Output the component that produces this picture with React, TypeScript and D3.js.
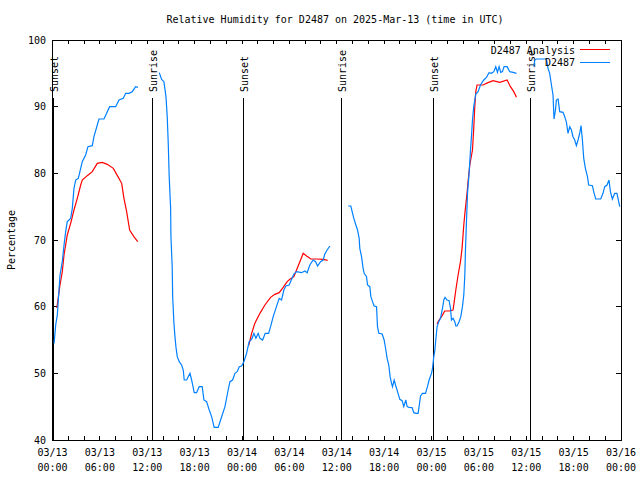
import React from "react";
import * as d3 from "d3";

// Hours since 03/13 00:00 UTC, value in %
type Pt = [number, number] | null;

const analysisSeries: Pt[] = [
  [0.55, 59.8], [0.95, 63.25], [1.24, 65.25], [1.46, 67.75], [1.87, 70.75],
  [2.3, 72.5], [2.72, 74.5], [3.14, 76.25], [3.57, 78.25], [3.77, 79], [4.4, 79.65],
  [5.04, 80.25], [5.67, 81.5], [6.3, 81.65], [6.94, 81.35], [7.7, 80.75], [8.29, 79.5],
  [8.76, 78.5], [9.05, 76.25], [9.39, 74.25], [9.77, 71.5], [10.3, 70.5], [10.8, 69.75],
  null,
  [24.85, 54.2], [25.22, 56], [25.63, 57.5], [26.27, 59], [26.9, 60.25],
  [27.62, 61.4], [28.16, 61.85], [28.71, 62.1], [29.22, 62.9], [29.72, 63.75], [30.06, 64.1],
  [30.57, 64.5], [30.91, 65.5], [31.33, 66.75], [31.75, 68], [32.18, 67.6], [32.72, 67.15],
  [33.44, 67.15], [34.28, 67.1], [34.84, 66.95],
  null,
  [48.71, 57.4], [48.92, 57.9], [49.27, 58.5], [49.68, 59.35], [50.23, 59.35],
  [50.73, 59.5], [50.86, 60.6], [51.08, 62.5], [51.37, 64.75], [51.67, 66.75], [51.87, 68.75],
  [52.09, 72.25], [52.25, 74.25], [52.43, 76.25], [52.56, 77.75], [52.63, 78.75], [52.85, 81.25],
  [53.19, 83.5], [53.35, 86.75], [53.48, 90], [53.61, 92.25], [53.77, 93.25], [54.53, 93.25],
  [55.16, 93.6], [55.8, 93.9], [56.65, 93.65], [57.57, 94], [58.0, 93], [58.42, 92.25],
  [58.76, 91.4],
];

const observedSeries: Pt[] = [
  [0.2, 54.5], [0.41, 57.3], [0.61, 58.75], [0.78, 61.75], [0.95, 64.75], [1.24, 66.75],
  [1.46, 69.25], [1.67, 71.25], [1.87, 72.75], [2.09, 73], [2.3, 73.25], [2.51, 74.75],
  [2.72, 77.75], [2.94, 79], [3.27, 79.25], [3.57, 80.75], [3.77, 81.75], [4.2, 82.75],
  [4.49, 84], [5.04, 84.15], [5.25, 85.5], [5.67, 87.25], [5.89, 88.15], [6.52, 88.15],
  [6.94, 89.25], [7.24, 90], [8.0, 90], [8.42, 91], [8.96, 91.25], [9.27, 92], [9.68, 92],
  [10.1, 92.25], [10.53, 93], [10.82, 92.9],
  null,
  [13.52, 95.1], [13.82, 94.1], [14.11, 93.75], [14.37, 91.5], [14.53, 88.5], [14.66, 84.5],
  [14.78, 79.5], [14.96, 74.75], [15.0, 70.5], [15.16, 66], [15.22, 61.5], [15.38, 57.5],
  [15.51, 55.5], [15.63, 54], [15.8, 52.5], [16.05, 51.75], [16.35, 51.25], [16.56, 50.5],
  [16.68, 49], [16.99, 49], [17.41, 50], [17.62, 49], [17.95, 47.1], [18.25, 47.1],
  [18.58, 48], [18.96, 48], [19.18, 46], [19.52, 45.75], [19.85, 44.5], [20.15, 43.5],
  [20.48, 41.9], [20.99, 41.9], [21.29, 43], [21.84, 45], [22.25, 47.5], [22.47, 48.75],
  [22.81, 49], [23.1, 50], [23.39, 50.25], [23.65, 51], [23.95, 51.1], [24.24, 51.75],
  [24.58, 53], [24.91, 54.75], [25.22, 55.1], [25.51, 56], [25.76, 55.25], [26.05, 56],
  [26.27, 55.25], [26.61, 55], [26.94, 56], [27.37, 56], [27.62, 57], [27.95, 58.5],
  [28.29, 59.75], [28.71, 61.25], [29.01, 61], [29.3, 62.5], [29.56, 63.1], [29.97, 63.25],
  [30.28, 64.1], [30.57, 64.9], [30.91, 65.25], [31.54, 65.1], [31.96, 65.35], [32.25, 65.1],
  [32.59, 66.25], [33.01, 67], [33.32, 66.75], [33.57, 66.1], [33.95, 66.75], [34.28, 67],
  [34.49, 67.9], [34.78, 68.5], [35.13, 69.1],
  null,
  [37.44, 75.1], [37.78, 75.1], [37.95, 74.25], [38.16, 73.25], [38.42, 72.25], [38.63, 71.5],
  [38.84, 70.25], [38.92, 68.75], [39.14, 67.5], [39.34, 65.75], [39.47, 65], [39.77, 64.5],
  [39.9, 63.25], [40.19, 63], [40.32, 61.5], [40.53, 60.75], [40.73, 60.1], [41.04, 60],
  [41.16, 57], [41.33, 56], [41.75, 55.9], [42.0, 55], [42.22, 53.5], [42.38, 52.25],
  [42.59, 51.25], [42.76, 49.5], [42.94, 48.5], [43.06, 48], [43.27, 49], [43.48, 48.1],
  [43.7, 47.25], [43.99, 46.1], [44.28, 45.9], [44.49, 45], [44.75, 46], [44.91, 45],
  [45.16, 44.9], [45.54, 44.85], [45.76, 44.1], [46.01, 44], [46.3, 44], [46.43, 45],
  [46.61, 46.6], [46.86, 47], [47.24, 47], [47.49, 48], [47.7, 49], [48.0, 50],
  [48.13, 50.75], [48.29, 52.5], [48.42, 53.4], [48.54, 55], [48.71, 57], [48.92, 57.75],
  [49.14, 58.25], [49.39, 59.75], [49.56, 61], [49.72, 61.4], [49.97, 61], [50.23, 60.9],
  [50.41, 59.75], [50.53, 58], [50.73, 58.25], [50.95, 57.75], [51.08, 57.1], [51.24, 57.1],
  [51.49, 57.75], [51.71, 58.5], [51.92, 60], [52.09, 61.75], [52.22, 64.75], [52.3, 68.5],
  [52.43, 72.75], [52.56, 77], [52.76, 80], [52.94, 83.5], [53.06, 85.5], [53.19, 88],
  [53.35, 90], [53.61, 91.9], [53.9, 92.25], [54.2, 93.25], [54.62, 94], [54.96, 94.4],
  [55.29, 95.1], [55.59, 95], [55.89, 95.25], [56.14, 96], [56.35, 95.15], [56.56, 96],
  [56.77, 95.15], [56.99, 95.25], [57.19, 96], [57.57, 96], [57.91, 95.25], [58.33, 95.15],
  [58.76, 95],
  null,
  [60.95, 96], [61.08, 97], [61.29, 97.15], [62.56, 97.15], [62.76, 95.75], [62.97, 95],
  [63.19, 93.25], [63.39, 91.75], [63.52, 88.15], [63.7, 89.5], [63.82, 91], [64.03, 91.15],
  [64.24, 89.25], [64.66, 89.15], [64.87, 88.5], [65.09, 87.65], [65.29, 86], [65.51, 87],
  [65.72, 86.5], [65.92, 85.5], [66.14, 85], [66.35, 84.15], [66.56, 85], [66.77, 86],
  [66.94, 87.15], [67.11, 85], [67.28, 82.25], [67.49, 80.75], [67.75, 79.5], [67.91, 78.25],
  [68.38, 78.15], [68.54, 77.25], [68.8, 76.15], [69.43, 76.15], [69.72, 77], [69.94, 78],
  [70.23, 78.25], [70.48, 79], [70.66, 77.25], [70.91, 76.15], [71.2, 77], [71.49, 77],
  [71.62, 76.25], [71.84, 75],
];

const sunLabels = ["Sunset", "Sunrise", "Sunset", "Sunrise", "Sunset", "Sunrise"];
const sunHours = [0.1, 12.56, 24.15, 36.58, 48.2, 60.53];

const xTickDates = ["03/13", "03/13", "03/13", "03/13", "03/14", "03/14", "03/14", "03/14", "03/15", "03/15", "03/15", "03/15", "03/16"];
const xTickTimes = ["00:00", "06:00", "12:00", "18:00", "00:00", "06:00", "12:00", "18:00", "00:00", "06:00", "12:00", "18:00", "00:00"];
const yTicks = [40, 50, 60, 70, 80, 90, 100];

const seriesNames = ["D2487 Analysis", "D2487"];
const seriesColors = ["#ff0000", "#0080ff"];

const FONT = "'DejaVu Sans Mono', monospace";

export default function App() {
  const L = 52.5, R = 621, T = 40, B = 440;
  const x = d3.scaleLinear().domain([0, 72]).range([L, R]);
  const y = d3.scaleLinear().domain([40, 100]).range([B, T]);

  const line = d3
    .line<Pt>()
    .defined((d) => d !== null)
    .x((d) => x((d as [number, number])[0]))
    .y((d) => y((d as [number, number])[1]));

  const minorHours = d3.range(0, 73, 2);
  const majorHours = d3.range(0, 73, 6);

  return (
    <svg width={640} height={480} style={{ position: "absolute", left: 0, top: 0, background: "#fff" }} fontFamily={FONT} fontSize={10}>
      <rect x={0} y={0} width={640} height={480} fill="#fff" />
      {/* title */}
      <text x={335} y={23} textAnchor="middle" fill="#000">
        Relative Humidity for D2487 on 2025-Mar-13 (time in UTC)
      </text>
      {/* y label */}
      <text transform={`translate(15,240) rotate(-90)`} textAnchor="middle" fill="#000">
        Percentage
      </text>

      {/* ticks */}
      <g stroke="#000" strokeWidth={1} shapeRendering="crispEdges">
        {yTicks.map((v) => (
          <g key={"yt" + v}>
            <line x1={L} x2={L + 5} y1={y(v)} y2={y(v)} />
            <line x1={R - 5} x2={R} y1={y(v)} y2={y(v)} />
          </g>
        ))}
        {minorHours.map((h) => (
          <g key={"xt" + h}>
            <line x1={x(h)} x2={x(h)} y1={B} y2={B - 4} />
            <line x1={x(h)} x2={x(h)} y1={T} y2={T + 4} />
          </g>
        ))}
      </g>

      {/* y tick labels */}
      {yTicks.map((v) => (
        <text key={"yl" + v} x={46} y={y(v)} dy="0.35em" textAnchor="end" fill="#000">
          {v}
        </text>
      ))}
      {/* x tick labels */}
      {majorHours.map((h, i) => (
        <g key={"xl" + h}>
          <text x={x(h)} y={456} textAnchor="middle" fill="#000">{xTickDates[i]}</text>
          <text x={x(h)} y={471} textAnchor="middle" fill="#000">{xTickTimes[i]}</text>
        </g>
      ))}

      {/* sunrise / sunset */}
      {sunHours.map((h, i) => (
        <g key={"sun" + i}>
          <line x1={Math.round(x(h)) + 0.5} x2={Math.round(x(h)) + 0.5} y1={98} y2={B} stroke="#000" strokeWidth={1} shapeRendering="crispEdges" />
          <text transform={`translate(${x(h) + 5},92) rotate(-90)`} textAnchor="start" fill="#000">
            {sunLabels[i]}
          </text>
        </g>
      ))}

      {/* series */}
      <path d={line(analysisSeries) || ""} fill="none" stroke={seriesColors[0]} strokeWidth={1.2} />
      <path d={line(observedSeries) || ""} fill="none" stroke={seriesColors[1]} strokeWidth={1.2} />

      {/* legend */}
      {seriesNames.map((n, i) => (
        <g key={"lg" + i}>
          <text x={575} y={50 + i * 12.5} dy="0.35em" textAnchor="end" fill="#000">{n}</text>
          <line x1={580} x2={610} y1={49.5 + i * 12.5} y2={49.5 + i * 12.5} stroke={seriesColors[i]} strokeWidth={1} shapeRendering="crispEdges" />
        </g>
      ))}

      {/* frame */}
      <rect x={L} y={T} width={R - L} height={B - T} fill="none" stroke="#000" strokeWidth={1} shapeRendering="crispEdges" />
    </svg>
  );
}
